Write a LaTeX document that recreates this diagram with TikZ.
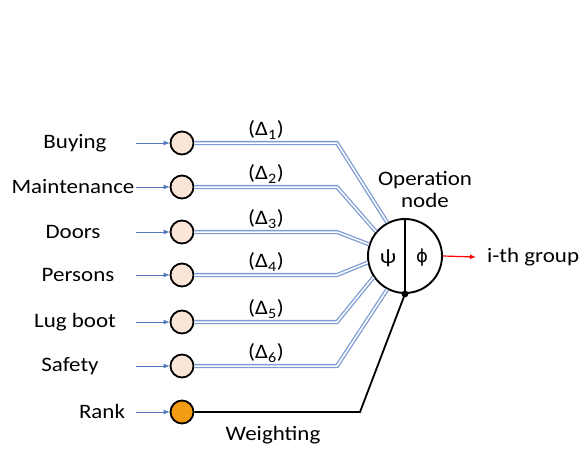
\documentclass[tikz,border=0pt]{standalone}
\usepackage{fontspec}
\setmainfont{Carlito}[FakeStretch=1.12]
\newfontfamily\dvfont{DejaVu Sans}
\usetikzlibrary{arrows.meta}
\definecolor{peach}{RGB}{251,229,214}
\definecolor{orng}{RGB}{243,156,18}
\definecolor{lblue}{RGB}{125,155,212}
\definecolor{arrblue}{RGB}{80,120,190}
\tikzset{
  inp/.style={circle,draw=black,line width=1.8pt,fill=peach,minimum size=23pt,inner sep=0pt},
  lbl/.style={font=\fontsize{20.5}{22}\selectfont,inner sep=0pt},
  feed/.style={draw=arrblue,line width=0.8pt,-{Latex[length=6pt,width=5pt]}},
  dbl/.style={draw=lblue,double=white,double distance=1.5pt,line width=1.3pt},
}
\begin{document}
\begin{tikzpicture}[x=1pt,y=-1pt]
\useasboundingbox (0,0) rectangle (584,450);
% operation node
\node[circle,draw=black,line width=1.9pt,fill=white,minimum size=74pt,inner sep=0pt] (op) at (405,256) {};
\draw[line width=1.5pt] (op.north) -- (op.south);
\node[lbl] (psi) at (388,258) {ψ};
\node[lbl] (phi) at (422,258) {\dvfont\fontsize{18}{20}\selectfont ϕ};
\node[lbl] (optext1) at (425,180) {Operation};
\node[lbl] (optext2) at (425,200) {node};
\coordinate (out) at (476,257);
\draw[red,line width=1.2pt,-{Latex[length=6pt,width=5pt]}] (op.east) -- (out);
\node[lbl,anchor=west] (grp) at (487,257) {i-th group};
% inputs
\foreach \n/\y/\txt/\tx/\ang/\k in {a/143/Buying/75/118/1, b/187/Maintenance/73/140/2, c/232/Doors/73/162/3, d/275/Persons/78/190/4, e/322/Lug boot/75/214/5, f/366/Safety/70/242/6}{
  \node[inp] (\n) at (182,\y) {};
  \node[lbl] (t\n) at (\tx,\y) {\txt};
  \coordinate (s\n) at (136,\y);
  \draw[feed] (s\n) -- (\n);
  \coordinate (k\n) at (337,\y);
  \draw[dbl] (\n.east) -- (k\n) -- (op.\ang);
  \node[lbl] (d\n) at (266,\y-13) {(Δ\textsubscript{\k})};
}
% rank
\node[inp,fill=orng] (r) at (182,412) {};
\node[lbl] (tr) at (102,411) {Rank};
\coordinate (sr) at (136,412);
\draw[feed] (sr) -- (r);
\coordinate (kr) at (360,412);
\draw[line width=1.8pt] (r.east) -- (kr) -- (op.south);
\fill (op.south) circle (3.4pt);
\node[lbl] (w) at (273,435) {Weighting};
\end{tikzpicture}
\end{document}
